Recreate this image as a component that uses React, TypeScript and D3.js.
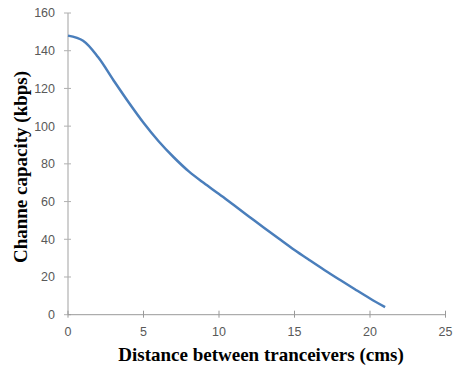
import { useEffect, useRef } from "react"
import * as d3 from "d3"

// distance between tranceivers (cms) and channel capacity (kbps)
const distances = [0, 1, 2, 3, 4, 5, 6, 7, 8, 9, 10, 11, 12, 13, 14, 15, 16, 17, 18, 19, 20, 21]
const capacity = [148, 145.3, 136.5, 124.5, 112.8, 101.8, 92, 83.5, 76, 69.8, 64, 58, 52, 46, 40.1, 34.3, 28.9, 23.6, 18.5, 13.5, 8.6, 4]
const xTicks = [0, 5, 10, 15, 20, 25]
const yTicks = [0, 20, 40, 60, 80, 100, 120, 140, 160]

export default function App() {
  const svgRef = useRef<SVGSVGElement>(null)

  useEffect(() => {
    if (!svgRef.current) return

    const width = 457
    const height = 367
    const margin = { top: 13, right: 11.5, bottom: 52.3, left: 68 }
    const innerWidth = width - margin.left - margin.right
    const innerHeight = height - margin.top - margin.bottom

    const svg = d3.select(svgRef.current).attr("width", width).attr("height", height)
    svg.selectAll("*").remove()

    const g = svg.append("g").attr("transform", `translate(${margin.left},${margin.top})`)

    const xScale = d3.scaleLinear().domain([0, 25]).range([0, innerWidth])
    const yScale = d3.scaleLinear().domain([0, 160]).range([innerHeight, 0])

    // y axis
    const yAxis = g.append("g")
    yAxis.append("line").attr("y1", 0).attr("y2", innerHeight).attr("stroke", "#d0d0d0").attr("stroke-width", 2)
    yTicks.forEach((t) => {
      yAxis
        .append("line")
        .attr("x1", -4)
        .attr("x2", 3)
        .attr("y1", yScale(t))
        .attr("y2", yScale(t))
        .attr("stroke", "#b0b0b0")
      yAxis
        .append("text")
        .attr("x", -13)
        .attr("y", yScale(t))
        .attr("dy", "0.35em")
        .attr("text-anchor", "end")
        .attr("font-family", "Liberation Sans, Arial, sans-serif")
        .attr("font-size", 12.5)
        .attr("fill", "#595959")
        .text(t)
    })

    // x axis
    const xAxis = g.append("g").attr("transform", `translate(0,${innerHeight})`)
    xAxis.append("line").attr("x1", 0).attr("x2", innerWidth).attr("stroke", "#999999").attr("stroke-width", 1)
    xTicks.forEach((t) => {
      xAxis
        .append("line")
        .attr("x1", xScale(t))
        .attr("x2", xScale(t))
        .attr("y1", -4)
        .attr("y2", 3)
        .attr("stroke", "#999999")
      xAxis
        .append("text")
        .attr("x", xScale(t))
        .attr("y", 17)
        .attr("dy", "0.35em")
        .attr("text-anchor", "middle")
        .attr("font-family", "Liberation Sans, Arial, sans-serif")
        .attr("font-size", 12.5)
        .attr("fill", "#595959")
        .text(t)
    })

    const data = distances.map((d, i) => ({ x: d, y: capacity[i] }))
    const line = d3
      .line<{ x: number; y: number }>()
      .x((d) => xScale(d.x))
      .y((d) => yScale(d.y))
      .curve(d3.curveCatmullRom.alpha(0.5))

    g.append("path")
      .datum(data)
      .attr("fill", "none")
      .attr("stroke", "#4a7ebb")
      .attr("stroke-width", 2.5)
      .attr("stroke-linejoin", "round")
      .attr("d", line)

    // axis titles
    svg
      .append("text")
      .attr("x", 261)
      .attr("y", 361)
      .attr("text-anchor", "middle")
      .attr("font-family", "Liberation Serif, Times New Roman, serif")
      .attr("font-weight", "bold")
      .attr("font-size", 19)
      .attr("fill", "#000")
      .text("Distance between tranceivers (cms)")

    svg
      .append("text")
      .attr("transform", `translate(27,167) rotate(-90)`)
      .attr("text-anchor", "middle")
      .attr("font-family", "Liberation Serif, Times New Roman, serif")
      .attr("font-weight", "bold")
      .attr("font-size", 19)
      .attr("fill", "#000")
      .text("Channe capacity (kbps)")
  }, [])

  return (
    <div style={{ position: "absolute", left: 0, top: 0 }}>
      <svg ref={svgRef} style={{ display: "block" }} />
    </div>
  )
}
